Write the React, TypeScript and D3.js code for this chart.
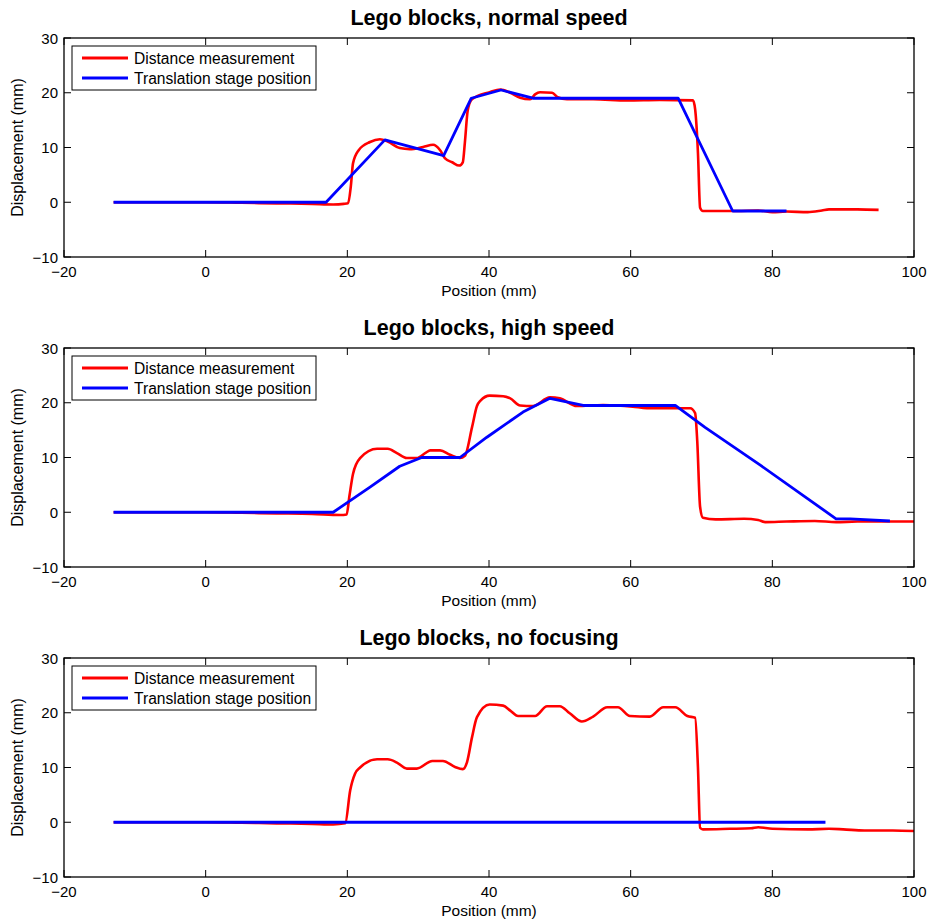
import { useEffect, useRef } from 'react';
import * as d3 from 'd3';

type Pt = [number, number];

const titles = ['Lego blocks, normal speed', 'Lego blocks, high speed', 'Lego blocks, no focusing'];
const legendLabels = ['Distance measurement', 'Translation stage position'];
const xTicks = [-20, 0, 20, 40, 60, 80, 100];
const yTicks = [-10, 0, 10, 20, 30];

const normalMeasured: Pt[] = [
  [-13, 0], [-5, 0], [0, 0], [5, -0.1], [10, -0.2], [15, -0.3], [18, -0.4], [19.5, -0.3], [20.1, -0.2],
  [20.5, 3], [20.8, 7.1], [21.6, 9.5], [23.2, 11], [24.6, 11.5], [25.7, 11.1], [27.4, 9.9], [28.8, 9.7],
  [30.7, 10.1], [32.1, 10.5], [33.1, 9.5], [33.8, 8], [34.8, 7.3], [35.8, 6.7], [36.3, 7.3], [36.6, 11],
  [37, 16.8], [37.6, 18.8], [40.1, 20.1], [41.6, 20.6], [43, 20], [44.4, 19.1], [45.8, 18.8], [46.5, 19.7],
  [47.2, 20.1], [48.9, 20], [49.7, 19.2], [51, 18.8], [54.7, 18.8], [59.5, 18.6], [64.1, 18.7], [68.8, 18.6],
  [69.1, 17], [69.5, 9], [69.8, -1], [70.2, -1.6], [75, -1.6], [78, -1.5], [80, -1.8], [82, -1.7],
  [85, -1.8], [87, -1.5], [88, -1.3], [92, -1.3], [95, -1.4],
];
const normalStage: Pt[] = [
  [-13, 0], [17, 0], [25.3, 11.4], [33.6, 8.5], [37.5, 19], [41.7, 20.5], [46.2, 19], [66.7, 19],
  [74.4, -1.6], [82, -1.6],
];

const highMeasured: Pt[] = [
  [-13, 0], [0, 0], [5, -0.1], [10, -0.2], [15, -0.3], [19, -0.5], [19.9, -0.4], [20.3, 3], [20.8, 7],
  [21.8, 9.9], [24.2, 11.6], [25.7, 11.6], [27, 10.8], [28.4, 9.9], [29.8, 9.9], [31.1, 10.9], [31.7, 11.3],
  [33.1, 11.3], [34.5, 10.5], [35.9, 9.9], [36.6, 10.3], [37.6, 15.5], [38.3, 19.4], [38.8, 20.4],
  [40.1, 21.3], [42, 21.2], [43, 20.8], [44.4, 19.5], [46.2, 19.4], [48.6, 21], [50, 20.8], [52.4, 19.4],
  [56.1, 19.6], [60.3, 19.3], [62.3, 19], [65.1, 19], [68.4, 19], [69.1, 18.1], [69.4, 13], [69.8, 1],
  [70.2, -1.0], [72, -1.3], [76, -1.2], [78, -1.4], [79, -1.8], [82, -1.7], [86, -1.6], [89, -1.8],
  [92, -1.7], [96, -1.7], [100, -1.7],
];
const highStage: Pt[] = [
  [-13, 0], [18, 0], [23.2, 4.6], [27.4, 8.4], [30.5, 10], [35.9, 10], [39.7, 13.7], [44.8, 18.3],
  [48.6, 20.8], [53.3, 19.5], [66.3, 19.5], [70.5, 15.5], [78.3, 8.6], [89, -1.2], [91, -1.2], [96.6, -1.6],
];

const noFocusMeasured: Pt[] = [
  [-13, 0], [0, 0], [5, -0.1], [10, -0.2], [15, -0.3], [18, -0.4], [19.7, -0.2], [20.4, 5.8], [21.1, 8.9],
  [21.8, 10], [24.2, 11.5], [25.7, 11.5], [27, 10.9], [28.4, 9.8], [29.8, 9.8], [32, 11.2], [33.5, 11.2],
  [35.2, 10.1], [36.3, 9.7], [36.9, 11], [37.6, 15.5], [38.3, 19.2], [40.1, 21.5], [42, 21.3], [43, 20.4],
  [44.1, 19.4], [46.5, 19.4], [48.2, 21.2], [50, 21.2], [51.4, 19.9], [53.1, 18.4], [54.7, 19.3],
  [56.7, 21], [58.2, 21], [59.9, 19.4], [62.7, 19.3], [64.6, 21], [66.3, 21], [68, 19.4], [69.1, 19.1],
  [69.5, 10], [69.8, -1], [70.2, -1.3], [74, -1.2], [77, -1.1], [78, -0.9], [80, -1.2], [85, -1.3],
  [88, -1.2], [90, -1.3], [93, -1.5], [97, -1.5], [100, -1.6],
];
const noFocusStage: Pt[] = [[-13, 0], [87.5, 0]];

const measuredSeries = [normalMeasured, highMeasured, noFocusMeasured];
const stageSeries = [normalStage, highStage, noFocusStage];

export default function App() {
  const svgRef = useRef<SVGSVGElement>(null);

  useEffect(() => {
    if (!svgRef.current) return;
    const svg = d3.select(svgRef.current);
    svg.selectAll('*').remove();

    const left = 64;
    const right = 914;
    const panelH = 219;
    const tops = [38, 348, 658];
    const font = 'Liberation Sans, Arial, Helvetica, sans-serif';

    const x = d3.scaleLinear().domain([-20, 100]).range([left, right]);
    const fmt = (t: number) => (t < 0 ? `\u2212${-t}` : `${t}`);

    tops.forEach((top, i) => {
      const y = d3.scaleLinear().domain([-10, 30]).range([top + panelH, top]);
      const g = svg.append('g');

      g.append('clipPath').attr('id', `clip${i}`)
        .append('rect').attr('x', left).attr('y', top).attr('width', right - left).attr('height', panelH);

      // Title
      g.append('text')
        .attr('x', (left + right) / 2).attr('y', top - 13)
        .attr('text-anchor', 'middle')
        .style('font', `bold 21.5px ${font}`)
        .text(titles[i]);

      // Ticks (inside, all four sides)
      xTicks.forEach(t => {
        g.append('line').attr('x1', x(t)).attr('x2', x(t)).attr('y1', top + panelH).attr('y2', top + panelH - 7)
          .attr('stroke', '#000');
        g.append('line').attr('x1', x(t)).attr('x2', x(t)).attr('y1', top).attr('y2', top + 7)
          .attr('stroke', '#000');
        g.append('text').attr('x', x(t)).attr('y', top + panelH + 20)
          .attr('text-anchor', 'middle').style('font', `15px ${font}`)
          .text(fmt(t));
      });
      yTicks.forEach(t => {
        g.append('line').attr('x1', left).attr('x2', left + 7).attr('y1', y(t)).attr('y2', y(t))
          .attr('stroke', '#000');
        g.append('line').attr('x1', right).attr('x2', right - 7).attr('y1', y(t)).attr('y2', y(t))
          .attr('stroke', '#000');
        g.append('text').attr('x', left - 6).attr('y', y(t) + 5.5)
          .attr('text-anchor', 'end').style('font', `15px ${font}`)
          .text(fmt(t));
      });

      // Axis labels
      g.append('text').attr('x', (left + right) / 2).attr('y', top + panelH + 39)
        .attr('text-anchor', 'middle').style('font', `15.5px ${font}`).text('Position (mm)');
      g.append('text')
        .attr('transform', `translate(23,${top + panelH / 2}) rotate(-90)`)
        .attr('text-anchor', 'middle').style('font', `16px ${font}`).text('Displacement (mm)');

      const plot = g.append('g').attr('clip-path', `url(#clip${i})`);
      const smooth = d3.line<Pt>().x(d => x(d[0])).y(d => y(d[1])).curve(d3.curveMonotoneX);
      const straight = d3.line<Pt>().x(d => x(d[0])).y(d => y(d[1]));

      plot.append('path').datum(measuredSeries[i]).attr('d', smooth)
        .attr('fill', 'none').attr('stroke', '#ff0000').attr('stroke-width', 2.6).attr('stroke-linejoin', 'round');
      plot.append('path').datum(stageSeries[i]).attr('d', straight)
        .attr('fill', 'none').attr('stroke', '#0000ff').attr('stroke-width', 2.8).attr('stroke-linejoin', 'round');

      // Box
      g.append('rect').attr('x', left).attr('y', top).attr('width', right - left).attr('height', panelH)
        .attr('fill', 'none').attr('stroke', '#000').attr('stroke-width', 1.3);

      // Legend
      const lg = g.append('g').attr('transform', `translate(${left + 8},${top + 8})`);
      lg.append('rect').attr('width', 244).attr('height', 44)
        .attr('fill', '#fff').attr('stroke', '#000').attr('stroke-width', 1);
      ['#ff0000', '#0000ff'].forEach((c, j) => {
        lg.append('line').attr('x1', 10).attr('x2', 56).attr('y1', 12 + j * 20).attr('y2', 12 + j * 20)
          .attr('stroke', c).attr('stroke-width', 2.8);
        lg.append('text').attr('x', 62).attr('y', 17.5 + j * 20)
          .style('font', `15.6px ${font}`).text(legendLabels[j]);
      });
    });
  }, []);

  return (
    <div>
      <style>{'body{margin:0}'}</style>
      <svg ref={svgRef} width={931} height={921} style={{ display: 'block', background: '#fff' }} />
    </div>
  );
}
